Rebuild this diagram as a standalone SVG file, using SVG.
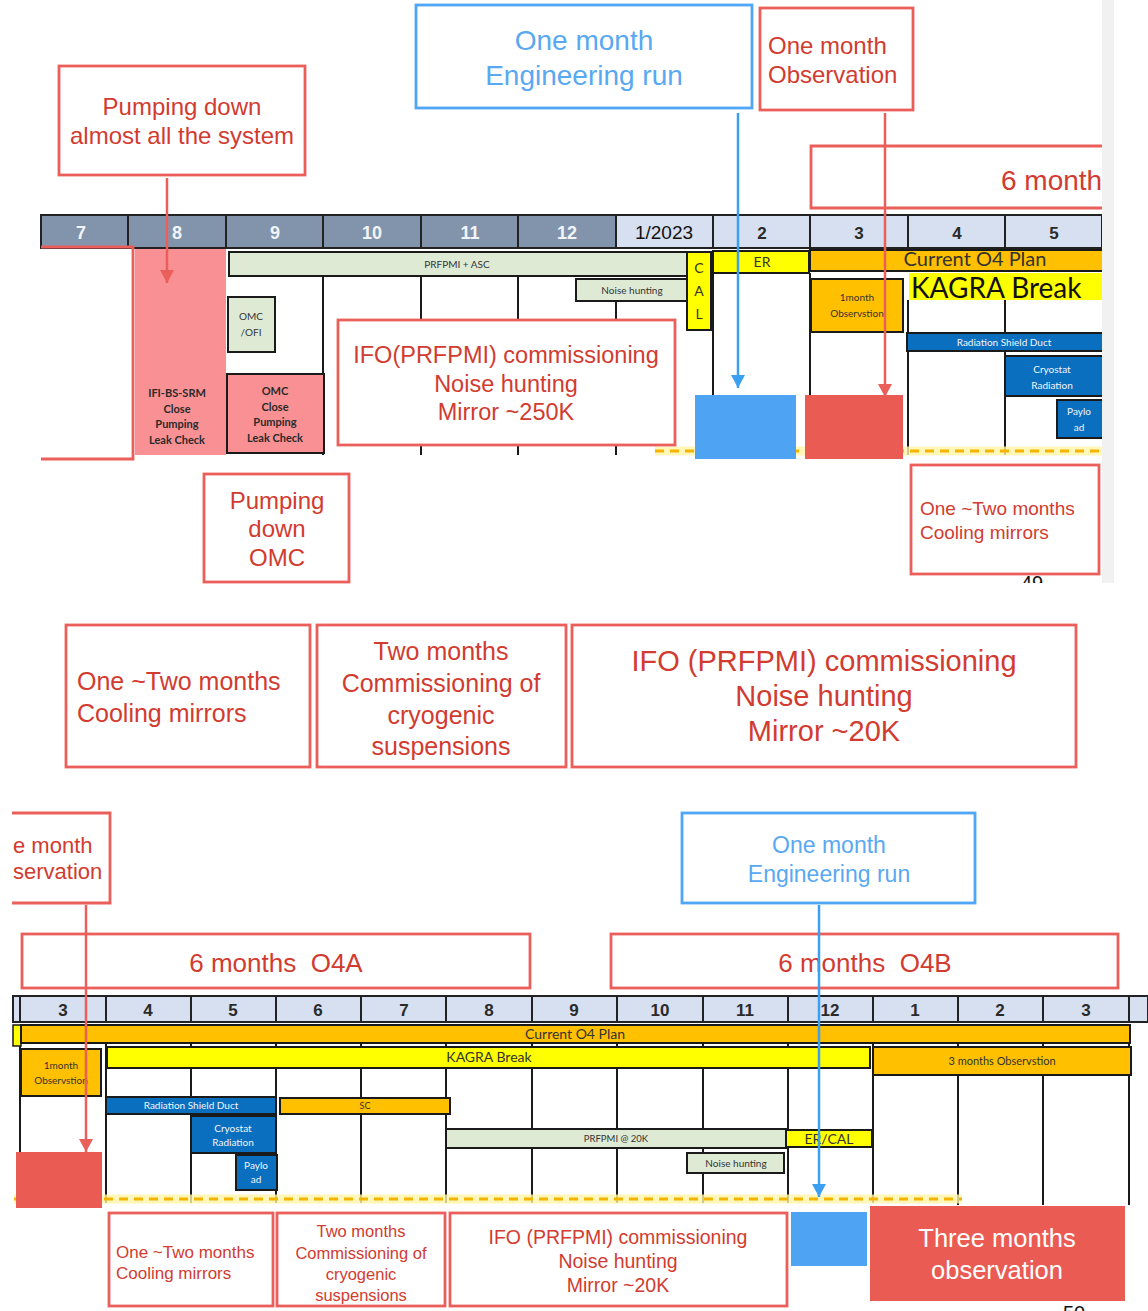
<svg xmlns="http://www.w3.org/2000/svg" width="1148" height="1311" viewBox="0 0 1148 1311">
<style>
.ro{fill:none;stroke:#ea5f5a;stroke-width:2.8}
.rw{fill:#fff;stroke:#ea5f5a;stroke-width:2.8}
.bo{fill:none;stroke:#4ea6f4;stroke-width:2.8}
.rt{font-family:"Liberation Sans",Arial,sans-serif;fill:#d23b30}
.bt{font-family:"Liberation Sans",Arial,sans-serif;fill:#58a9f1}
.hd{fill:#8294ac;stroke:#222;stroke-width:2}
.hl{fill:#d6e0f1;stroke:#222;stroke-width:2}
.ht{font-family:"Liberation Sans",Arial,sans-serif;font-weight:bold;font-size:18px;fill:#f2f5f8;text-anchor:middle}
.htd{font-family:"Liberation Sans",Arial,sans-serif;font-weight:bold;font-size:17px;fill:#2a2a2a;text-anchor:middle}
.grid{stroke:#1a1a1a;stroke-width:2}
.gr{fill:#dfead5;stroke:#1a1a1a;stroke-width:2}
.pk{fill:#f99194}
.ye{fill:#ffff00;stroke:#1a1a1a;stroke-width:2}
.or{fill:#ffc000;stroke:#1a1a1a;stroke-width:2}
.bl{fill:#0b6fc0;stroke:#1a1a1a;stroke-width:2}
.ct{font-family:Lato,"Open Sans",sans-serif;fill:#333;text-anchor:middle}
.cw{font-family:Lato,"Open Sans",sans-serif;fill:#f2f6fb;text-anchor:middle}
.cb{font-family:Lato,"Open Sans",sans-serif;font-weight:bold;fill:#2a2a2a;text-anchor:middle}
.dash{stroke:#f5b400;stroke-width:3;stroke-dasharray:9 6}
.glow{stroke:#fff4a8;stroke-width:9;opacity:0.8}
.fr{fill:#ea5b54}
.fb{fill:#4ea4f2}
.cr{stroke:#ea5f5a;stroke-width:2.5;fill:none}
.cbl{stroke:#3ba0f2;stroke-width:2.5;fill:none}
</style>
<defs>
<marker id="ar" viewBox="0 0 14 13" refX="7" refY="13" markerWidth="14" markerHeight="13" markerUnits="userSpaceOnUse">
<path d="M0,0 L14,0 L7,13 z" fill="#ea5f5a"/>
</marker>
<marker id="ab" viewBox="0 0 14 13" refX="7" refY="13" markerWidth="14" markerHeight="13" markerUnits="userSpaceOnUse">
<path d="M0,0 L14,0 L7,13 z" fill="#3ba0f2"/>
</marker>
<clipPath id="topclip"><rect x="0" y="0" width="1102" height="583"/></clipPath>
<clipPath id="obs1"><rect x="811" y="279" width="92" height="53"/></clipPath>
<clipPath id="obs2"><rect x="21" y="1049" width="80" height="47"/></clipPath>
</defs>
<rect width="1148" height="1311" fill="#fff"/>

<!-- ============ TOP SECTION ============ -->
<rect x="1102" y="0" width="12" height="583" fill="#f1f1f1"/>
<g id="top-chart" clip-path="url(#topclip)">
<g id="top-header">
<rect class="hd" x="41" y="215" width="87" height="33"/>
<rect class="hd" x="128" y="215" width="98" height="33"/>
<rect class="hd" x="226" y="215" width="97" height="33"/>
<rect class="hd" x="323" y="215" width="98" height="33"/>
<rect class="hd" x="421" y="215" width="97" height="33"/>
<rect class="hd" x="518" y="215" width="98" height="33"/>
<rect class="hl" x="616" y="215" width="97" height="33"/>
<rect class="hl" x="713" y="215" width="97" height="33"/>
<rect class="hl" x="810" y="215" width="98" height="33"/>
<rect class="hl" x="908" y="215" width="97" height="33"/>
<rect class="hl" x="1005" y="215" width="97" height="33"/>
<text class="ht" x="81" y="239">7</text>
<text class="ht" x="177" y="239">8</text>
<text class="ht" x="275" y="239">9</text>
<text class="ht" x="372" y="239">10</text>
<text class="ht" x="470" y="239">11</text>
<text class="ht" x="567" y="239">12</text>
<text class="htd" x="664" y="239" style="font-size:19px;font-weight:normal;fill:#111">1/2023</text>
<text class="htd" x="762" y="239">2</text>
<text class="htd" x="859" y="239">3</text>
<text class="htd" x="957" y="239">4</text>
<text class="htd" x="1054" y="239">5</text>
</g>
<g id="top-grid">
<line class="grid" x1="323" y1="276" x2="323" y2="455"/>
<line class="grid" x1="421" y1="276" x2="421" y2="455"/>
<line class="grid" x1="518" y1="276" x2="518" y2="455"/>
<line class="grid" x1="616" y1="301" x2="616" y2="455"/>
<line class="grid" x1="713" y1="273" x2="713" y2="455"/>
<line class="grid" x1="810" y1="273" x2="810" y2="455"/>
<line class="grid" x1="908" y1="300" x2="908" y2="455"/>
<line class="grid" x1="1005" y1="300" x2="1005" y2="455"/>
</g>
<line class="glow" x1="655" y1="451" x2="1102" y2="451"/>
<line class="dash" x1="655" y1="451" x2="1102" y2="451"/>

<path class="ro" d="M41,247 H133 V459 H41"/>
<g id="ifi-bs-srm">
<rect class="pk" x="135" y="249" width="91" height="206"/>
<text class="cb" font-size="11" x="177" y="397">IFI-BS-SRM</text>
<text class="cb" font-size="11" x="177" y="413">Close</text>
<text class="cb" font-size="11" x="177" y="428">Pumping</text>
<text class="cb" font-size="11" x="177" y="444">Leak Check</text>
</g>
<g id="prfpmi-asc"><rect class="gr" x="229" y="252" width="458" height="24"/><text class="ct" font-size="10" x="457" y="268">PRFPMI + ASC</text></g>
<g id="noise-hunting-1"><rect class="gr" x="576" y="279" width="111" height="22"/><text class="ct" font-size="10" x="632" y="294">Noise hunting</text></g>
<g id="cal"><rect class="ye" x="687" y="252" width="24" height="78"/>
<text class="ct" font-size="14" x="699" y="273">C</text><text class="ct" font-size="14" x="699" y="296">A</text><text class="ct" font-size="14" x="699" y="319">L</text></g>
<g id="omc-ofi"><rect class="gr" x="228" y="297" width="47" height="55"/><text class="ct" font-size="10" x="251" y="320">OMC</text><text class="ct" font-size="10" x="251" y="336">/OFI</text></g>
<g id="omc-close"><rect x="227" y="374" width="97" height="79" fill="#f99194" stroke="#1a1a1a" stroke-width="2"/>
<text class="cb" font-size="11" x="275" y="395">OMC</text><text class="cb" font-size="11" x="275" y="411">Close</text><text class="cb" font-size="11" x="275" y="426">Pumping</text><text class="cb" font-size="11" x="275" y="442">Leak Check</text></g>
<g id="er-top"><rect class="ye" x="713" y="251" width="96" height="22"/><text class="ct" font-size="14" x="762" y="267">ER</text></g>
<g id="current-o4-top"><rect class="or" x="810" y="250" width="300" height="21"/><text class="ct" font-size="20" x="975" y="266" fill="#1a1a1a">Current O4 Plan</text></g>
<g id="kagra-break-top"><rect x="909" y="273" width="200" height="27" fill="#ffff00"/><text font-family="Lato,'Open Sans',sans-serif" font-size="28" x="911" y="298" fill="#111">KAGRA Break</text></g>
<g id="obs-1month-top"><rect class="or" x="811" y="279" width="92" height="53"/>
<g clip-path="url(#obs1)"><text class="ct" font-size="10" x="857" y="301">1month</text><text class="ct" font-size="10" x="857" y="317">Observstion</text></g></g>
<g id="rad-shield-top"><rect class="bl" x="907" y="333" width="200" height="18"/><text class="cw" font-size="10" x="1004" y="346">Radiation Shield Duct</text></g>
<g id="cryostat-top"><rect class="bl" x="1005" y="356" width="100" height="40"/><text class="cw" font-size="10" x="1052" y="373">Cryostat</text><text class="cw" font-size="10" x="1052" y="389">Radiation</text></g>
<g id="payload-top"><rect class="bl" x="1057" y="400" width="50" height="38"/><text class="cw" font-size="10" x="1079" y="415">Paylo</text><text class="cw" font-size="10" x="1079" y="431">ad</text></g>
<g id="er-block-top"><rect class="fb" x="695" y="395" width="101" height="64"/></g>
<g id="obs-block-top"><rect class="fr" x="805" y="395" width="98" height="64"/></g>
<g id="ifo-250k"><rect class="rw" x="338" y="320" width="337" height="125"/>
<text class="rt" font-size="23.5" text-anchor="middle" x="506" y="363">IFO(PRFPMI) commissioning</text>
<text class="rt" font-size="23.5" text-anchor="middle" x="506" y="392">Noise hunting</text>
<text class="rt" font-size="23.5" text-anchor="middle" x="506" y="420">Mirror ~250K</text></g>
<g id="six-month-top"><path class="ro" d="M1110,146 H811 V208 H1110"/><text class="rt" font-size="28" x="1001" y="190">6 months</text></g>
</g>

<g id="pumping-all"><rect class="ro" x="59" y="66" width="246" height="109"/>
<text class="rt" font-size="24" text-anchor="middle" x="182" y="115">Pumping down</text>
<text class="rt" font-size="24" text-anchor="middle" x="182" y="144">almost all the system</text></g>
<g id="er-note-top"><rect class="bo" x="416" y="5" width="336" height="103"/>
<text class="bt" font-size="28" text-anchor="middle" x="584" y="50">One month</text>
<text class="bt" font-size="28" text-anchor="middle" x="584" y="85">Engineering run</text></g>
<g id="obs-note-top"><rect class="ro" x="760" y="8" width="153" height="102"/>
<text class="rt" font-size="24" x="768" y="54">One month</text>
<text class="rt" font-size="24" x="768" y="83">Observation</text></g>
<g id="pumping-omc"><rect class="ro" x="204" y="474" width="145" height="108"/>
<text class="rt" font-size="24" text-anchor="middle" x="277" y="509">Pumping</text>
<text class="rt" font-size="24" text-anchor="middle" x="277" y="537">down</text>
<text class="rt" font-size="24" text-anchor="middle" x="277" y="566">OMC</text></g>
<g id="cooling-top"><rect class="ro" x="911" y="465" width="188" height="109"/>
<text class="rt" font-size="19" x="920" y="515">One ~Two months</text>
<text class="rt" font-size="19" x="920" y="539">Cooling mirrors</text></g>
<g clip-path="url(#topclip)"><text font-family="Liberation Sans,Arial,sans-serif" font-size="20" x="1021" y="590" fill="#111">49</text></g>

<!-- ============ MIDDLE SECTION ============ -->
<g id="cooling-mid"><rect class="ro" x="66" y="625" width="244" height="142"/>
<text class="rt" font-size="25" x="77" y="690">One ~Two months</text>
<text class="rt" font-size="25" x="77" y="722">Cooling mirrors</text></g>
<g id="cryo-mid"><rect class="ro" x="317" y="625" width="249" height="142"/>
<text class="rt" font-size="25" text-anchor="middle" x="441" y="660">Two months</text>
<text class="rt" font-size="25" text-anchor="middle" x="441" y="692">Commissioning of</text>
<text class="rt" font-size="25" text-anchor="middle" x="441" y="724">cryogenic</text>
<text class="rt" font-size="25" text-anchor="middle" x="441" y="755">suspensions</text></g>
<g id="ifo-mid"><rect class="ro" x="572" y="625" width="504" height="142"/>
<text class="rt" font-size="29" text-anchor="middle" x="824" y="671">IFO (PRFPMI) commissioning</text>
<text class="rt" font-size="29" text-anchor="middle" x="824" y="706">Noise hunting</text>
<text class="rt" font-size="29" text-anchor="middle" x="824" y="741">Mirror ~20K</text></g>

<!-- ============ BOTTOM SECTION ============ -->
<g id="obs-note-bottom"><path class="ro" d="M12,813 H110 V903 H12"/>
<text class="rt" font-size="22" x="13" y="853">e month</text>
<text class="rt" font-size="22" x="13" y="879">servation</text></g>
<g id="er-note-bottom"><rect class="bo" x="682" y="813" width="293" height="90"/>
<text class="bt" font-size="23" text-anchor="middle" x="829" y="853">One month</text>
<text class="bt" font-size="23" text-anchor="middle" x="829" y="882">Engineering run</text></g>
<g id="o4a"><rect class="ro" x="22" y="934" width="508" height="54"/>
<text class="rt" font-size="26" text-anchor="middle" x="276" y="972" xml:space="preserve">6 months  O4A</text></g>
<g id="o4b"><rect class="ro" x="611" y="934" width="507" height="54"/>
<text class="rt" font-size="26" text-anchor="middle" x="865" y="972" xml:space="preserve">6 months  O4B</text></g>

<g id="bottom-header">
<rect class="hl" x="13" y="996" width="7" height="26"/>
<rect class="hl" x="20" y="996" width="86" height="26"/>
<rect class="hl" x="106" y="996" width="85" height="26"/>
<rect class="hl" x="191" y="996" width="85" height="26"/>
<rect class="hl" x="276" y="996" width="85" height="26"/>
<rect class="hl" x="361" y="996" width="85" height="26"/>
<rect class="hl" x="446" y="996" width="86" height="26"/>
<rect class="hl" x="532" y="996" width="85" height="26"/>
<rect class="hl" x="617" y="996" width="86" height="26"/>
<rect class="hl" x="703" y="996" width="85" height="26"/>
<rect class="hl" x="788" y="996" width="85" height="26"/>
<rect class="hl" x="873" y="996" width="85" height="26"/>
<rect class="hl" x="958" y="996" width="85" height="26"/>
<rect class="hl" x="1043" y="996" width="86" height="26"/>
<rect class="hl" x="1129" y="996" width="19" height="26"/>
<text class="htd" x="63" y="1016">3</text>
<text class="htd" x="148" y="1016">4</text>
<text class="htd" x="233" y="1016">5</text>
<text class="htd" x="318" y="1016">6</text>
<text class="htd" x="404" y="1016">7</text>
<text class="htd" x="489" y="1016">8</text>
<text class="htd" x="574" y="1016">9</text>
<text class="htd" x="660" y="1016">10</text>
<text class="htd" x="745" y="1016">11</text>
<text class="htd" x="830" y="1016">12</text>
<text class="htd" x="915" y="1016">1</text>
<text class="htd" x="1000" y="1016">2</text>
<text class="htd" x="1086" y="1016">3</text>
</g>
<g id="bottom-grid">
<line class="grid" x1="20" y1="1040" x2="20" y2="1155"/>
<line class="grid" x1="106" y1="1040" x2="106" y2="1203"/>
<line class="grid" x1="191" y1="1040" x2="191" y2="1203"/>
<line class="grid" x1="276" y1="1040" x2="276" y2="1203"/>
<line class="grid" x1="361" y1="1040" x2="361" y2="1203"/>
<line class="grid" x1="446" y1="1040" x2="446" y2="1203"/>
<line class="grid" x1="532" y1="1040" x2="532" y2="1203"/>
<line class="grid" x1="617" y1="1040" x2="617" y2="1203"/>
<line class="grid" x1="703" y1="1040" x2="703" y2="1203"/>
<line class="grid" x1="788" y1="1040" x2="788" y2="1203"/>
<line class="grid" x1="873" y1="1040" x2="873" y2="1203"/>
<line class="grid" x1="958" y1="1040" x2="958" y2="1205"/>
<line class="grid" x1="1043" y1="1040" x2="1043" y2="1205"/>
<line class="grid" x1="1129" y1="1040" x2="1129" y2="1205"/>
</g>
<line class="glow" x1="14" y1="1199" x2="962" y2="1199"/>
<line class="dash" x1="14" y1="1199" x2="962" y2="1199"/>

<g id="current-o4-bottom"><rect x="13" y="1025" width="8" height="21" fill="#ffff00" stroke="#1a1a1a" stroke-width="1.5"/>
<rect class="or" x="21" y="1025" width="1109" height="18"/><text class="ct" font-size="14" x="575" y="1039" fill="#1a1a1a">Current O4 Plan</text></g>
<g id="kagra-break-bottom"><rect class="ye" x="107" y="1047" width="763" height="21"/><text class="ct" font-size="14" x="489" y="1062" fill="#1a1a1a">KAGRA Break</text></g>
<g id="obs-3month"><rect class="or" x="873" y="1047" width="258" height="28"/><text class="ct" font-size="11" x="1002" y="1065">3 months Observstion</text></g>
<g id="obs-1month-bottom"><rect class="or" x="21" y="1049" width="80" height="47"/>
<g clip-path="url(#obs2)"><text class="ct" font-size="10" x="61" y="1069">1month</text><text class="ct" font-size="10" x="61" y="1084">Observstion</text></g></g>
<g id="rad-shield-bottom"><rect class="bl" x="106" y="1097" width="170" height="17"/><text class="cw" font-size="10" x="191" y="1109">Radiation Shield Duct</text></g>
<g id="sc"><rect class="or" x="280" y="1098" width="170" height="16"/><text class="ct" font-size="9" x="365" y="1109">SC</text></g>
<g id="cryostat-bottom"><rect class="bl" x="191" y="1116" width="85" height="37"/><text class="cw" font-size="10" x="233" y="1132">Cryostat</text><text class="cw" font-size="10" x="233" y="1146">Radiation</text></g>
<g id="payload-bottom"><rect class="bl" x="236" y="1155" width="41" height="35"/><text class="cw" font-size="10" x="256" y="1169">Paylo</text><text class="cw" font-size="10" x="256" y="1183">ad</text></g>
<g id="prfpmi-20k"><rect class="gr" x="446" y="1129" width="340" height="19"/><text class="ct" font-size="9.5" x="616" y="1142">PRFPMI @ 20K</text></g>
<g id="er-cal"><rect class="ye" x="786" y="1130" width="86" height="17"/><text class="ct" font-size="14" x="829" y="1144" fill="#1a1a1a">ER/CAL</text></g>
<g id="noise-hunting-2"><rect class="gr" x="687" y="1153" width="97" height="20"/><text class="ct" font-size="10" x="736" y="1167">Noise hunting</text></g>
<g id="obs-block-bottom"><rect class="fr" x="16" y="1152" width="86" height="56"/></g>

<g id="cooling-bottom"><rect class="ro" x="109" y="1213" width="164" height="93"/>
<text class="rt" font-size="17" x="116" y="1258">One ~Two months</text>
<text class="rt" font-size="17" x="116" y="1279">Cooling mirrors</text></g>
<g id="cryo-bottom"><rect class="ro" x="277" y="1213" width="168" height="93"/>
<text class="rt" font-size="16.5" text-anchor="middle" x="361" y="1237">Two months</text>
<text class="rt" font-size="16.5" text-anchor="middle" x="361" y="1259">Commissioning of</text>
<text class="rt" font-size="16.5" text-anchor="middle" x="361" y="1280">cryogenic</text>
<text class="rt" font-size="16.5" text-anchor="middle" x="361" y="1301">suspensions</text></g>
<g id="ifo-bottom"><rect class="ro" x="450" y="1213" width="337" height="93"/>
<text class="rt" font-size="19.5" text-anchor="middle" x="618" y="1244">IFO (PRFPMI) commissioning</text>
<text class="rt" font-size="19.5" text-anchor="middle" x="618" y="1268">Noise hunting</text>
<text class="rt" font-size="19.5" text-anchor="middle" x="618" y="1292">Mirror ~20K</text></g>
<g id="er-block-bottom"><rect class="fb" x="791" y="1212" width="76" height="54"/></g>
<g id="three-months-obs"><rect class="fr" x="870" y="1206" width="255" height="95"/>
<text font-family="Liberation Sans,Arial,sans-serif" font-size="25.5" fill="#fff" text-anchor="middle" x="997" y="1247">Three months</text>
<text font-family="Liberation Sans,Arial,sans-serif" font-size="25.5" fill="#fff" text-anchor="middle" x="997" y="1279">observation</text></g>
<text font-family="Liberation Sans,Arial,sans-serif" font-size="20" x="1063" y="1320" fill="#111">50</text>

<!-- ============ CONNECTORS ============ -->
<g id="connectors">
<line class="cr" x1="167" y1="178" x2="167" y2="283" marker-end="url(#ar)"/>
<line class="cbl" x1="738" y1="113" x2="738" y2="388" marker-end="url(#ab)"/>
<line class="cr" x1="885" y1="113" x2="885" y2="397" marker-end="url(#ar)"/>
<line class="cr" x1="86" y1="905" x2="86" y2="1152" marker-end="url(#ar)"/>
<line class="cbl" x1="819" y1="905" x2="819" y2="1197" marker-end="url(#ab)"/>
</g>
</svg>
